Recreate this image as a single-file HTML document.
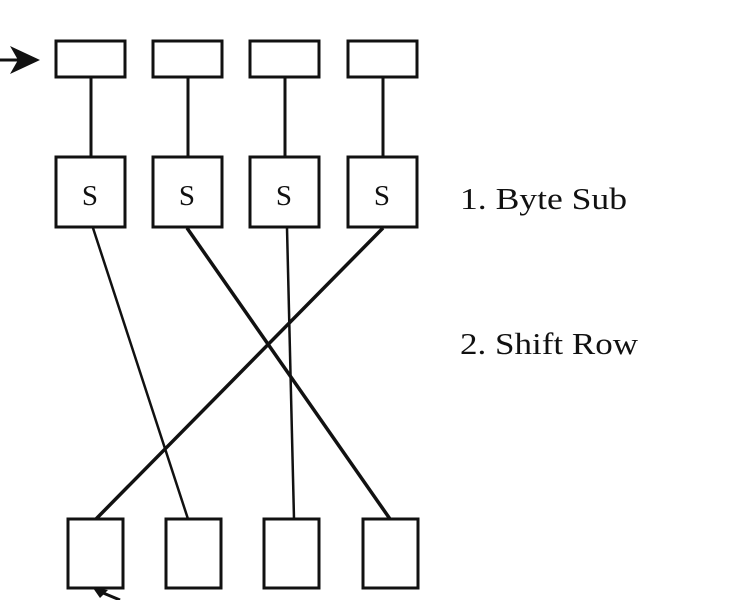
<!DOCTYPE html><html><head><style>body{margin:0;background:#fff}svg{display:block}</style></head><body>
<svg width="752" height="600" viewBox="0 0 752 600" xmlns="http://www.w3.org/2000/svg">
<g fill="none" stroke="#111" stroke-width="3">
<rect x="56" y="41" width="69" height="36"/><rect x="153" y="41" width="69" height="36"/><rect x="250" y="41" width="69" height="36"/><rect x="348" y="41" width="69" height="36"/>
<rect x="56" y="157" width="69" height="70"/><rect x="153" y="157" width="69" height="70"/><rect x="250" y="157" width="69" height="70"/><rect x="348" y="157" width="69" height="70"/>
<rect x="68" y="519" width="55" height="69"/><rect x="166" y="519" width="55" height="69"/><rect x="264" y="519" width="55" height="69"/><rect x="363" y="519" width="55" height="69"/>
<line x1="91" y1="77" x2="91" y2="157"/><line x1="188" y1="77" x2="188" y2="157"/><line x1="285" y1="77" x2="285" y2="157"/><line x1="383" y1="77" x2="383" y2="157"/>
<line x1="93" y1="228" x2="188" y2="519" stroke-width="2.5"/>
<line x1="187" y1="228" x2="390" y2="519" stroke-width="3.5"/>
<line x1="287" y1="228" x2="294" y2="519" stroke-width="2.5"/>
<line x1="383" y1="228" x2="96" y2="519" stroke-width="3.5"/>
<line x1="0" y1="60" x2="30" y2="60"/>
<line x1="96" y1="590" x2="120" y2="600"/>
</g>
<polygon points="40,60 10,46 18,60 10,74" fill="#111"/>
<polygon points="93,588 108,590 100,598" fill="#111"/>
<g font-family="Liberation Serif, serif" fill="#111">
<text x="90" y="205" font-size="29" text-anchor="middle">S</text><text x="187" y="205" font-size="29" text-anchor="middle">S</text><text x="284" y="205" font-size="29" text-anchor="middle">S</text><text x="382" y="205" font-size="29" text-anchor="middle">S</text>
<text x="460" y="209" font-size="31" textLength="167" lengthAdjust="spacingAndGlyphs">1. Byte Sub</text>
<text x="460" y="354" font-size="31" textLength="178" lengthAdjust="spacingAndGlyphs">2. Shift Row</text>
</g>
</svg></body></html>
